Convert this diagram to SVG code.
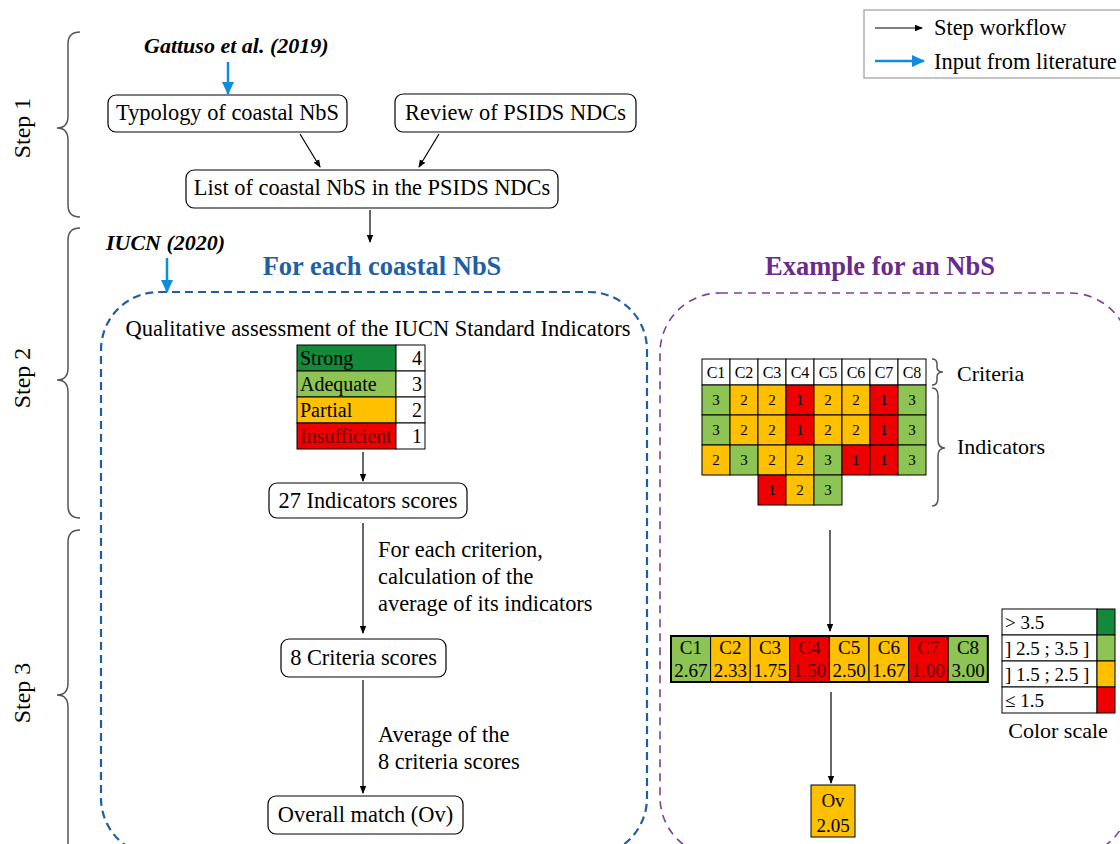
<svg xmlns="http://www.w3.org/2000/svg" width="1120" height="844" viewBox="0 0 1120 844">
<defs>
<marker id="ah" markerWidth="8" markerHeight="8" refX="7" refY="4" orient="auto" markerUnits="userSpaceOnUse"><path d="M0,0.8 L8,4 L0,7.2 z" fill="#000"/></marker>
<marker id="bh" markerWidth="13" markerHeight="12" refX="12" refY="6" orient="auto" markerUnits="userSpaceOnUse"><path d="M0,0 L13,6 L0,12 z" fill="#118BDB"/></marker>
<style>
text{font-family:"Liberation Serif","Times New Roman",serif;fill:#000}
.t{font-size:22.4px}
.s{font-size:20px}
.l{font-size:22px}
.m{text-anchor:middle}
.e{text-anchor:end}
.box{fill:#fff;stroke:#000;stroke-width:1.2}
.bi{font-weight:bold;font-style:italic;font-size:22px}
.brace{fill:none;stroke:#555;stroke-width:1.5}
.wf{stroke:#000;stroke-width:1.2;fill:none;marker-end:url(#ah)}
.lit{stroke:#118BDB;stroke-width:2.5;fill:none;marker-end:url(#bh)}
.cell{stroke:#000;stroke-width:1}
.dg{fill:#138A3A}.lg{fill:#8DC454}.or{fill:#FFC000}.rd{fill:#EE0000}.wh{fill:#fff}
.g{font-size:15px;text-anchor:middle}
.h{font-size:16px;text-anchor:middle}
.cr{font-size:19px;text-anchor:middle}
.dr{fill:#6b0000}
.step{font-size:24px;text-anchor:middle}
.sc{font-size:19px}
</style>
</defs>
<rect width="1120" height="844" fill="#fff"/>

<g id="legend">
<rect x="864" y="10" width="262" height="68" fill="#fff" stroke="#888" stroke-width="1"/>
<line x1="875" y1="28" x2="922" y2="28" class="wf"/>
<line x1="875" y1="61" x2="924" y2="61" class="lit"/>
<text x="934" y="35" class="t">Step workflow</text>
<text x="934" y="69" class="t">Input from literature</text>
</g>

<g id="steps">
<path class="brace" d="M80,32 Q68,32 68,44 L68,116 Q68,128 57,128 Q68,128 68,140 L68,205 Q68,217 80,217"/>
<text class="step" transform="translate(30,128) rotate(-90)">Step 1</text>
<path class="brace" d="M80,228 Q68,228 68,240 L68,368 Q68,380 57,380 Q68,380 68,392 L68,506 Q68,518 80,518"/>
<text class="step" transform="translate(30,378) rotate(-90)">Step 2</text>
<path class="brace" d="M80,530 Q68,530 68,542 L68,683 Q68,695 57,695 Q68,695 68,707 L68,850 Q68,862 80,862"/>
<text class="step" transform="translate(30,693) rotate(-90)">Step 3</text>
</g>

<g id="panels">
<rect x="101" y="292" width="546" height="564" rx="58" fill="none" stroke="#1F5F9F" stroke-width="2.2" stroke-dasharray="8 5"/>
<rect x="660" y="293" width="470" height="564" rx="60" fill="none" stroke="#7B3F9E" stroke-width="1.6" stroke-dasharray="8 6"/>
<text x="382" y="275" class="m" style="font-size:26.5px;font-weight:bold;fill:#1E5FA6">For each coastal NbS</text>
<text x="880" y="275" class="m" style="font-size:26.5px;font-weight:bold;fill:#6A2A8E">Example for an NbS</text>
</g>

<g id="sources">
<text x="144" y="53" class="bi">Gattuso et al. (2019)</text>
<text x="106" y="250" class="bi">IUCN (2020)</text>
</g>

<g id="typology">
<rect x="108" y="95" width="239" height="37" rx="8" class="box"/>
<text x="227.5" y="120" class="t m">Typology of coastal NbS</text>
</g>
<g id="review">
<rect x="395" y="94" width="241" height="38" rx="8" class="box"/>
<text x="515.5" y="120" class="t m">Review of PSIDS NDCs</text>
</g>
<g id="list">
<rect x="186" y="170" width="372" height="38" rx="8" class="box"/>
<text x="372" y="195" class="t m">List of coastal NbS in the PSIDS NDCs</text>
</g>

<g id="qualitative">
<text x="378" y="336" class="m" style="font-size:22.5px">Qualitative assessment of the IUCN Standard Indicators</text>
<rect x="297" y="345" width="99" height="26" class="cell dg"/>
<rect x="396" y="345" width="29" height="26" class="cell wh"/>
<rect x="297" y="371" width="99" height="26" class="cell lg"/>
<rect x="396" y="371" width="29" height="26" class="cell wh"/>
<rect x="297" y="397" width="99" height="26" class="cell or"/>
<rect x="396" y="397" width="29" height="26" class="cell wh"/>
<rect x="297" y="423" width="99" height="26" class="cell rd"/>
<rect x="396" y="423" width="29" height="26" class="cell wh"/>
<text x="300" y="365" class="s">Strong</text><text x="422" y="365" class="s e">4</text>
<text x="300" y="391" class="s">Adequate</text><text x="422" y="391" class="s e">3</text>
<text x="300" y="417" class="s">Partial</text><text x="422" y="417" class="s e">2</text>
<text x="300" y="443" class="s" style="fill:#6b0000">Insufficient</text><text x="422" y="443" class="s e">1</text>
</g>

<g id="indicators-scores">
<rect x="269" y="483" width="198" height="35" rx="8" class="box"/>
<text x="368" y="508" class="t m">27 Indicators scores</text>
</g>
<g id="criteria-scores">
<rect x="281" y="639" width="165" height="38" rx="8" class="box"/>
<text x="363.5" y="665" class="t m">8 Criteria scores</text>
</g>
<g id="overall">
<rect x="268" y="796" width="195" height="38" rx="8" class="box"/>
<text x="365.5" y="822" class="t m">Overall match (Ov)</text>
</g>

<g id="labels">
<text x="378" y="557" class="t">For each criterion,</text>
<text x="378" y="584" class="t">calculation of the</text>
<text x="378" y="611" class="t">average of its indicators</text>
<text x="378" y="742" class="t">Average of the</text>
<text x="378" y="769" class="t">8 criteria scores</text>
</g>

<g id="example-grid">
<rect x="702" y="359" width="28" height="26" class="cell wh"/>
<rect x="730" y="359" width="28" height="26" class="cell wh"/>
<rect x="758" y="359" width="28" height="26" class="cell wh"/>
<rect x="786" y="359" width="28" height="26" class="cell wh"/>
<rect x="814" y="359" width="28" height="26" class="cell wh"/>
<rect x="842" y="359" width="28" height="26" class="cell wh"/>
<rect x="870" y="359" width="28" height="26" class="cell wh"/>
<rect x="898" y="359" width="28" height="26" class="cell wh"/>
<text x="716" y="378" class="h">C1</text><text x="744" y="378" class="h">C2</text><text x="772" y="378" class="h">C3</text><text x="800" y="378" class="h">C4</text>
<text x="828" y="378" class="h">C5</text><text x="856" y="378" class="h">C6</text><text x="884" y="378" class="h">C7</text><text x="912" y="378" class="h">C8</text>

<rect x="702" y="385" width="28" height="30" class="cell lg"/><rect x="730" y="385" width="28" height="30" class="cell or"/>
<rect x="758" y="385" width="28" height="30" class="cell or"/><rect x="786" y="385" width="28" height="30" class="cell rd"/>
<rect x="814" y="385" width="28" height="30" class="cell or"/><rect x="842" y="385" width="28" height="30" class="cell or"/>
<rect x="870" y="385" width="28" height="30" class="cell rd"/><rect x="898" y="385" width="28" height="30" class="cell lg"/>
<text x="716" y="405" class="g">3</text><text x="744" y="405" class="g">2</text><text x="772" y="405" class="g">2</text><text x="800" y="405" class="g">1</text>
<text x="828" y="405" class="g">2</text><text x="856" y="405" class="g">2</text><text x="884" y="405" class="g">1</text><text x="912" y="405" class="g">3</text>

<rect x="702" y="415" width="28" height="30" class="cell lg"/><rect x="730" y="415" width="28" height="30" class="cell or"/>
<rect x="758" y="415" width="28" height="30" class="cell or"/><rect x="786" y="415" width="28" height="30" class="cell rd"/>
<rect x="814" y="415" width="28" height="30" class="cell or"/><rect x="842" y="415" width="28" height="30" class="cell or"/>
<rect x="870" y="415" width="28" height="30" class="cell rd"/><rect x="898" y="415" width="28" height="30" class="cell lg"/>
<text x="716" y="435" class="g">3</text><text x="744" y="435" class="g">2</text><text x="772" y="435" class="g">2</text><text x="800" y="435" class="g">1</text>
<text x="828" y="435" class="g">2</text><text x="856" y="435" class="g">2</text><text x="884" y="435" class="g">1</text><text x="912" y="435" class="g">3</text>

<rect x="702" y="445" width="28" height="30" class="cell or"/><rect x="730" y="445" width="28" height="30" class="cell lg"/>
<rect x="758" y="445" width="28" height="30" class="cell or"/><rect x="786" y="445" width="28" height="30" class="cell or"/>
<rect x="814" y="445" width="28" height="30" class="cell lg"/><rect x="842" y="445" width="28" height="30" class="cell rd"/>
<rect x="870" y="445" width="28" height="30" class="cell rd"/><rect x="898" y="445" width="28" height="30" class="cell lg"/>
<text x="716" y="465" class="g">2</text><text x="744" y="465" class="g">3</text><text x="772" y="465" class="g">2</text><text x="800" y="465" class="g">2</text>
<text x="828" y="465" class="g">3</text><text x="856" y="465" class="g">1</text><text x="884" y="465" class="g">1</text><text x="912" y="465" class="g">3</text>

<rect x="758" y="475" width="28" height="30" class="cell rd"/><rect x="786" y="475" width="28" height="30" class="cell or"/>
<rect x="814" y="475" width="28" height="30" class="cell lg"/>
<text x="772" y="495" class="g">1</text><text x="800" y="495" class="g">2</text><text x="828" y="495" class="g">3</text>

<path class="brace" d="M932,359 Q937,359 937,364 L937,367 Q937,372 943,372 Q937,372 937,377 L937,380 Q937,385 932,385"/>
<path class="brace" d="M932,388 Q938,388 938,396 L938,440 Q938,448 945,448 Q938,448 938,456 L938,498 Q938,506 932,506"/>
<text x="957" y="381" class="l">Criteria</text>
<text x="957" y="454" class="l">Indicators</text>
</g>

<g id="example-criteria">
<rect x="671" y="636" width="39.6" height="46" class="cell lg"/>
<rect x="710.6" y="636" width="39.6" height="46" class="cell or"/>
<rect x="750.2" y="636" width="39.6" height="46" class="cell or"/>
<rect x="789.8" y="636" width="39.6" height="46" class="cell rd"/>
<rect x="829.4" y="636" width="39.6" height="46" class="cell or"/>
<rect x="869" y="636" width="39.6" height="46" class="cell or"/>
<rect x="908.6" y="636" width="39.6" height="46" class="cell rd"/>
<rect x="948.2" y="636" width="39.6" height="46" class="cell lg"/>
<rect x="671" y="636" width="316.8" height="46" fill="none" stroke="#000" stroke-width="2"/>
<text x="690.8" y="654" class="cr">C1</text><text x="690.8" y="677" class="cr">2.67</text>
<text x="730.4" y="654" class="cr">C2</text><text x="730.4" y="677" class="cr">2.33</text>
<text x="770" y="654" class="cr">C3</text><text x="770" y="677" class="cr">1.75</text>
<text x="809.6" y="654" class="cr dr">C4</text><text x="809.6" y="677" class="cr dr">1.50</text>
<text x="849.2" y="654" class="cr">C5</text><text x="849.2" y="677" class="cr">2.50</text>
<text x="888.8" y="654" class="cr">C6</text><text x="888.8" y="677" class="cr">1.67</text>
<text x="928.4" y="654" class="cr dr">C7</text><text x="928.4" y="677" class="cr dr">1.00</text>
<text x="968" y="654" class="cr">C8</text><text x="968" y="677" class="cr">3.00</text>
</g>

<g id="example-overall">
<rect x="811" y="785" width="44" height="52" class="cell or" stroke-width="1.5"/>
<text x="833" y="807" class="cr">Ov</text>
<text x="833" y="832" class="cr">2.05</text>
</g>

<g id="color-scale">
<rect x="1002" y="609" width="95" height="26" class="cell wh"/><rect x="1097" y="609" width="18" height="26" class="cell dg"/>
<rect x="1002" y="635" width="95" height="26" class="cell wh"/><rect x="1097" y="635" width="18" height="26" class="cell lg"/>
<rect x="1002" y="661" width="95" height="26" class="cell wh"/><rect x="1097" y="661" width="18" height="26" class="cell or"/>
<rect x="1002" y="687" width="95" height="26" class="cell wh"/><rect x="1097" y="687" width="18" height="26" class="cell rd"/>
<text x="1005" y="629" class="sc">&gt; 3.5</text>
<text x="1005" y="655" class="sc">] 2.5 ; 3.5 ]</text>
<text x="1005" y="681" class="sc">] 1.5 ; 2.5 ]</text>
<text x="1005" y="707" class="sc">≤ 1.5</text>
<text x="1058" y="738" class="l m">Color scale</text>
</g>

<g id="connectors">
<line x1="228" y1="62" x2="228" y2="94" class="lit"/>
<line x1="300" y1="134" x2="320" y2="167" class="wf"/>
<line x1="439" y1="134" x2="419" y2="167" class="wf"/>
<line x1="370" y1="210" x2="370" y2="242" class="wf"/>
<line x1="167" y1="258" x2="167" y2="292" class="lit"/>
<line x1="363" y1="452" x2="363" y2="481" class="wf"/>
<line x1="363" y1="523" x2="363" y2="633" class="wf"/>
<line x1="363" y1="680" x2="363" y2="793" class="wf"/>
<line x1="830" y1="530" x2="830" y2="631" class="wf"/>
<line x1="831" y1="692" x2="831" y2="783" class="wf"/>
</g>
</svg>
